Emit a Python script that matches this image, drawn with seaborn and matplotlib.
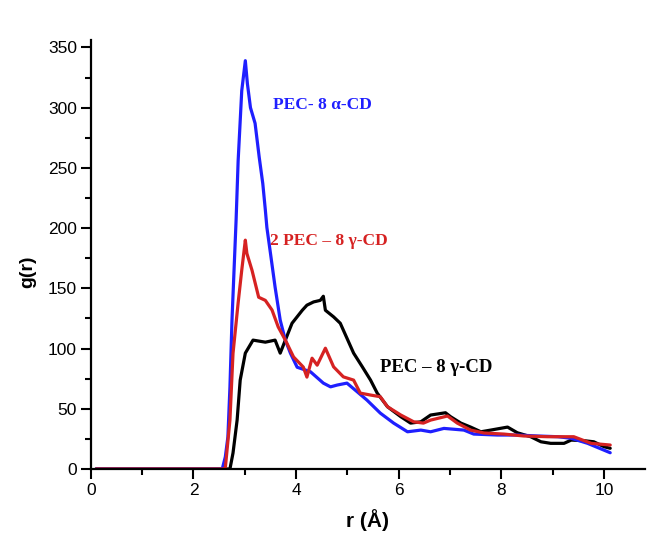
import numpy as np
import pandas as pd
import matplotlib
matplotlib.use("Agg")
import matplotlib.pyplot as plt
from matplotlib.ticker import MultipleLocator
import seaborn as sns

# ---- data ----
alpha_r = [0.1, 2.56, 2.62, 2.67, 2.71, 2.75, 2.83, 2.87, 2.91, 2.94, 3.01, 3.05, 3.11, 3.20, 3.28,
           3.35, 3.40, 3.43, 3.50, 3.59, 3.69, 3.79, 3.89, 4.02, 4.28, 4.53, 4.67, 4.80, 4.99,
           5.19, 5.38, 5.64, 5.90, 6.17, 6.43, 6.62, 6.88, 7.27, 7.46, 7.92, 8.31, 8.71, 9.10,
           9.36, 9.68, 10.12]
alpha_g = [0, 0, 10, 26.5, 68, 123.5, 206.5, 256, 289, 314, 339, 320, 300, 287, 259,
           237, 215, 200.5, 179, 151, 123.5, 107, 96, 84.5, 80.7, 71.3, 68.2, 69.7, 71.3,
           64.1, 57.2, 46.4, 38.1, 30.9, 32.3, 30.9, 33.7, 32.3, 29.0, 28.2, 28.2, 27.4, 26.8,
           25.5, 21.3, 13.5]

gamma2_r = [0.1, 2.60, 2.62, 2.71, 2.77, 2.87, 2.94, 3.01, 3.04, 3.14, 3.27, 3.40, 3.53, 3.65,
            3.79, 3.95, 4.14, 4.21, 4.31, 4.41, 4.57, 4.73, 4.92, 5.12, 5.25, 5.45, 5.64, 5.78,
            6.04, 6.29, 6.48, 6.62, 6.95, 7.14, 7.40, 7.66, 8.05, 8.44, 8.90, 9.41, 9.75, 10.12]
gamma2_g = [0, 0, 0.8, 40.6, 96, 138, 165, 190, 179, 165, 142.6, 140, 132, 118,
            107, 93, 84.6, 76.3, 92, 86.2, 100.3, 84.8, 76.5, 73.8, 63, 61.4, 60, 51.7,
            44.8, 39.2, 38.1, 40.6, 44, 38.1, 32.3, 29.9, 29, 27.4, 26.8, 26.8, 21.3, 19.9]

gamma_r = [0.1, 2.71, 2.77, 2.85, 2.91, 3.01, 3.16, 3.40, 3.59, 3.69, 3.79, 3.92, 4.12, 4.21,
           4.34, 4.47, 4.53, 4.57, 4.73, 4.86, 4.99, 5.12, 5.29, 5.45, 5.58, 5.78, 6.04, 6.23,
           6.43, 6.62, 6.91, 7.01, 7.21, 7.40, 7.60, 7.79, 8.12, 8.31, 8.57, 8.77, 8.96, 9.22,
           9.36, 9.61, 9.80, 10.0, 10.12]
gamma_g = [0, 0, 13.3, 40.6, 73.8, 96.2, 107, 105.3, 107, 96.2, 107, 121, 131.8, 136,
           138.7, 140, 143.4, 131.8, 126.3, 121, 108.6, 96.2, 84.8, 73.8, 63, 51.7, 43.4, 38.1,
           39.2, 44.8, 46.7, 43.4, 38.1, 34.8, 30.9, 32.3, 34.8, 30.1, 26.8, 22.6, 21.3, 21.3,
           24, 23.5, 22.6, 18.5, 17.2]

series_names = ["PEC- 8 \u03b1-CD", "2 PEC \u2013 8 \u03b3-CD", "PEC \u2013 8 \u03b3-CD"]
xticks = [0, 2, 4, 6, 8, 10]
yticks = [0, 50, 100, 150, 200, 250, 300, 350]

# ---- figure ----
sns.set_style("ticks")
plt.rcParams['font.family'] = ['Liberation Sans', 'DejaVu Sans']
plt.rcParams['text.color'] = 'black'
plt.rcParams['axes.labelcolor'] = 'black'
plt.rcParams['xtick.color'] = 'black'
plt.rcParams['ytick.color'] = 'black'

fig = plt.figure(figsize=(6.49, 5.36), dpi=100)
ax = fig.add_axes([0.140, 0.125, 0.854, 0.800])

frames = [
    pd.DataFrame({"r": alpha_r, "g": alpha_g, "s": series_names[0]}),
    pd.DataFrame({"r": gamma2_r, "g": gamma2_g, "s": series_names[1]}),
    pd.DataFrame({"r": gamma_r, "g": gamma_g, "s": series_names[2]}),
]
colors = ["#1f1fff", "#d62222", "#000000"]
order = [2, 0, 1]  # draw black first, then blue, red on top
for i in order:
    sns.lineplot(data=frames[i], x="r", y="g", ax=ax, color=colors[i],
                 linewidth=2.3, sort=False, estimator=None, legend=False)

ax.set_xlim(0, 10.8)
ax.set_ylim(0, 356)
ax.set_xticks(xticks)
ax.set_yticks(yticks)
ax.xaxis.set_minor_locator(MultipleLocator(1))
ax.yaxis.set_minor_locator(MultipleLocator(25))
ax.tick_params(axis="both", which="major", direction="out", length=7, width=1.5,
               labelsize=12.5, pad=3, color="black", labelcolor="black")
ax.tick_params(axis="both", which="minor", direction="out", length=4, width=1.5, color="black")

for side in ["top", "right"]:
    ax.spines[side].set_visible(False)
for side in ["left", "bottom"]:
    ax.spines[side].set_linewidth(1.6)
    ax.spines[side].set_color("black")

ax.set_xlabel("r (\u00c5)", fontsize=15, fontweight="bold", labelpad=8, color="black")
ax.set_ylabel("g(r)", fontsize=14, fontweight="bold", labelpad=10, color="black")
ax.yaxis.set_label_coords(-0.098, 0.46)

serif = ['Liberation Serif', 'DejaVu Serif']
ax.text(3.54, 302, series_names[0], color=colors[0], fontsize=12.5, fontweight="bold",
        family=serif, va="center", ha="left")
ax.text(3.50, 189, series_names[1], color=colors[1], fontsize=12.5, fontweight="bold",
        family=serif, va="center", ha="left")
ax.text(5.64, 84, series_names[2], color=colors[2], fontsize=13.5, fontweight="bold",
        family=serif, va="center", ha="left")

fig.savefig("out.png", dpi=100)
